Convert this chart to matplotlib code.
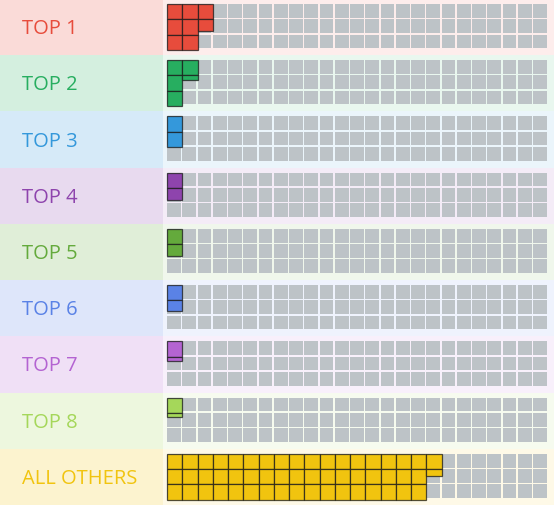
import matplotlib.pyplot as plt
from matplotlib.patches import Rectangle
from matplotlib.colors import to_rgb

# Data: share of each group, measured in waffle cells (3 x 25 grid = 75 cells)
labels = ["TOP 1", "TOP 2", "TOP 3", "TOP 4", "TOP 5", "TOP 6", "TOP 7", "TOP 8", "ALL OTHERS"]
cells = [7.8, 4.3, 2.0, 1.78, 1.75, 1.72, 1.3, 1.3, 52.44]
colors = ["#e74c3c", "#27ae60", "#3498db", "#8e44ad", "#64aa3c",
          "#5a82e6", "#b464d2", "#a5d75a", "#f1c40f"]

n_rows, n_cols = 3, 25

W, H = 554, 506
band_h = H / len(labels)
label_w = 162.5
x0, y_off = 167, 5.0
pitch = 15.25
gap = 1.5


def tint(c, a):
    r, g, b = to_rgb(c)
    return (1 - a * (1 - r), 1 - a * (1 - g), 1 - a * (1 - b))


fig = plt.figure(figsize=(W / 100, H / 100), dpi=100)
ax = fig.add_axes([0, 0, 1, 1])
ax.set_xlim(0, W)
ax.set_ylim(H, 0)
ax.axis("off")

for i, (lab, val, col) in enumerate(zip(labels, cells, colors)):
    top = i * band_h
    ax.add_patch(Rectangle((0, top), label_w, band_h, facecolor=tint(col, 0.2), lw=0))
    ax.add_patch(Rectangle((label_w, top), W - label_w, band_h, facecolor=tint(col, 0.1), lw=0))
    ax.text(22, top + band_h / 2 + 1, lab, color=col, fontsize=14.5,
            family="Open Sans", va="center", ha="left")

    # empty grid
    for c in range(n_cols):
        for r in range(n_rows):
            ax.add_patch(Rectangle((x0 + c * pitch, top + y_off + r * pitch),
                                   pitch - gap, pitch - gap, facecolor="#bdc3c7", lw=0))

    # filled cells, column by column, top to bottom
    k = 0
    while k < val:
        frac = min(1.0, val - k)
        c, r = k // n_rows, k % n_rows
        ax.add_patch(Rectangle((x0 + c * pitch, top + y_off + r * pitch),
                               pitch, pitch * frac, facecolor=col,
                               edgecolor=(0.1, 0.1, 0.1, 0.75), lw=0.9))
        k += 1

fig.savefig("out.png", dpi=100)
